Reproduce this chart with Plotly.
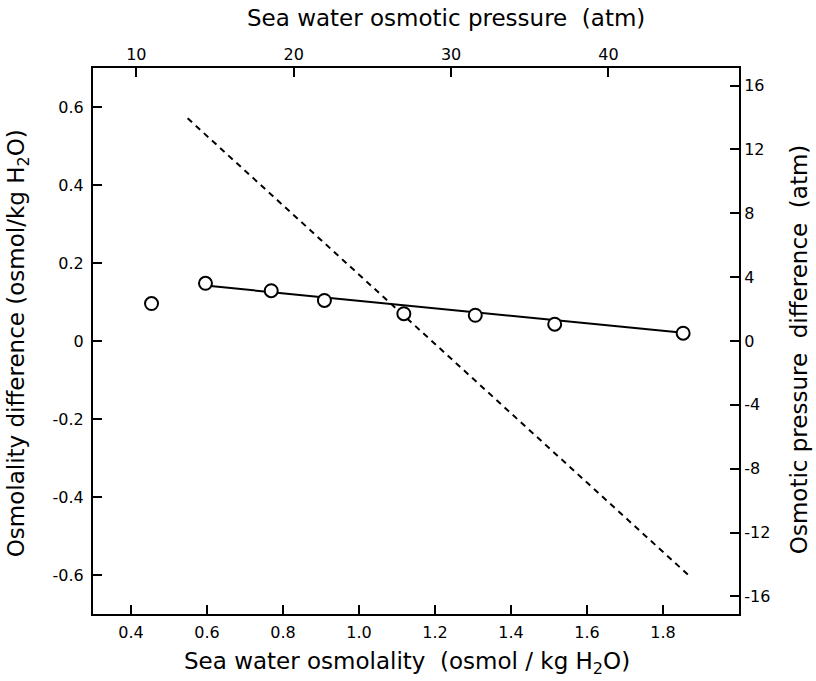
import plotly.graph_objects as go

# Measured points: sea water osmolality vs osmolality difference
osmolality = [0.454, 0.596, 0.769, 0.909, 1.118, 1.306, 1.515, 1.853]
osm_diff = [0.096, 0.148, 0.129, 0.104, 0.070, 0.066, 0.043, 0.020]

# Fitted (solid) line endpoints
fit_x = [0.596, 1.853]
fit_y = [0.142, 0.021]

# Dashed reference line endpoints
dash_x = [0.549, 1.870]
dash_y = [0.571, -0.603]

x_ticks = [0.4, 0.6, 0.8, 1.0, 1.2, 1.4, 1.6, 1.8]
x_ticktext = ["0.4", "0.6", "0.8", "1.0", "1.2", "1.4", "1.6", "1.8"]
y_ticks = [0.6, 0.4, 0.2, 0, -0.2, -0.4, -0.6]
y_ticktext = ["0.6", "0.4", "0.2", "0", "-0.2", "-0.4", "-0.6"]
top_ticks = [10, 20, 30, 40]
right_ticks = [16, 12, 8, 4, 0, -4, -8, -12, -16]
right_ticktext = ["16", "12", "8", "4", "0", "-4", "-8", "-12", "-16"]

ATM_PER_OSMOL_TOP = 24.15
X_RANGE = [0.3, 2.0]
Y_RANGE = [-0.7, 0.7]
RIGHT_RANGE = [-17.1, 17.1]

FONT = "DejaVu Sans"
TICKFONT = dict(family=FONT, size=16, color="black")
TITLEFONT = dict(family=FONT, size=23, color="black")

fig = go.Figure()

fig.add_trace(go.Scatter(
    x=dash_x, y=dash_y, mode="lines",
    line=dict(color="black", width=2, dash="6px,5px"),
    showlegend=False, hoverinfo="skip"))

fig.add_trace(go.Scatter(
    x=fit_x, y=fit_y, mode="lines",
    line=dict(color="black", width=2),
    showlegend=False, hoverinfo="skip"))

fig.add_trace(go.Scatter(
    x=osmolality, y=osm_diff, mode="markers",
    marker=dict(symbol="circle", size=13, color="white",
                line=dict(color="black", width=2)),
    showlegend=False))

# invisible traces to activate secondary axes
fig.add_trace(go.Scatter(x=[None], y=[None], xaxis="x2", yaxis="y", showlegend=False))
fig.add_trace(go.Scatter(x=[None], y=[None], xaxis="x", yaxis="y2", showlegend=False))

common = dict(showgrid=False, zeroline=False, ticks="inside", ticklen=9,
              tickwidth=2, tickcolor="black", showline=True, linecolor="black",
              linewidth=2, tickfont=TICKFONT, automargin=False)

fig.update_layout(
    width=816, height=681,
    margin=dict(l=93, r=77, t=68, b=67, autoexpand=False),
    paper_bgcolor="white", plot_bgcolor="white",
    xaxis=dict(range=X_RANGE, tickvals=x_ticks, ticktext=x_ticktext,
               side="bottom", ticklabelstandoff=3, **common),
    xaxis2=dict(range=[X_RANGE[0] * ATM_PER_OSMOL_TOP, X_RANGE[1] * ATM_PER_OSMOL_TOP],
                tickvals=top_ticks, ticktext=[str(t) for t in top_ticks],
                side="top", overlaying="x", anchor="y", **common),
    yaxis=dict(range=Y_RANGE, tickvals=y_ticks, ticktext=y_ticktext,
               side="left", ticklabelstandoff=4, **common),
    yaxis2=dict(range=RIGHT_RANGE, tickvals=right_ticks, ticktext=right_ticktext,
                side="right", overlaying="y", anchor="x", **common),
    annotations=[
        dict(text="Sea water osmolality  (osmol / kg H<sub>2</sub>O)",
             xref="paper", yref="paper", x=0.486, y=-0.09, showarrow=False,
             font=TITLEFONT, xanchor="center", yanchor="middle"),
        dict(text="Sea water osmotic pressure  (atm)",
             xref="paper", yref="paper", x=0.546, y=1.092, showarrow=False,
             font=TITLEFONT, xanchor="center", yanchor="middle"),
        dict(text="Osmolality difference (osmol/kg H<sub>2</sub>O)",
             xref="paper", yref="paper", x=-0.116, y=0.496, showarrow=False,
             font=TITLEFONT, textangle=-90, xanchor="center", yanchor="middle"),
        dict(text="Osmotic pressure  difference  (atm)",
             xref="paper", yref="paper", x=1.092, y=0.484, showarrow=False,
             font=TITLEFONT, textangle=-90, xanchor="center", yanchor="middle"),
    ],
)

fig.write_html("out.html", config={"displayModeBar": False},
               post_script="document.body.style.margin='0px';")
